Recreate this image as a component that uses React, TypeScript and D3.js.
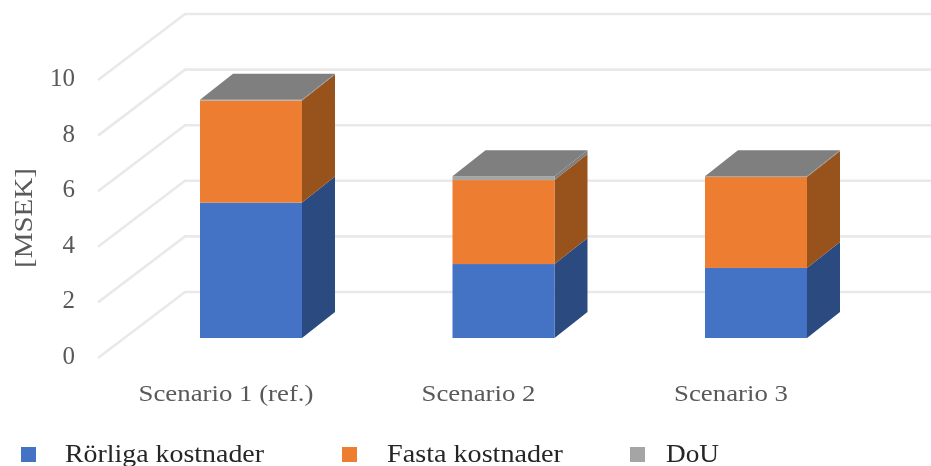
import React from "react";
import * as d3 from "d3";

const categories = ["Scenario 1 (ref.)", "Scenario 2", "Scenario 3"];
const seriesNames = ["Rörliga kostnader", "Fasta kostnader", "DoU"];
const rorliga = [4.87, 2.66, 2.52];
const fasta = [3.67, 3.02, 3.27];
const dou = [0.03, 0.14, 0.03];
const ticks = [0, 2, 4, 6, 8, 10];

const frontColors = ["#4472C4", "#ED7D31", "#A5A5A5"];
const sideColors = ["#2A4A80", "#98521C", "#7F7F7F"];
const topColor = "#7F7F7F";
const font = "'Liberation Serif', serif";

const W = 931, H = 466;
const depthX = 87, depthY = 66;
const barDepthX = 33, barDepthY = 26;
const y = d3.scaleLinear().domain([0, 10]).range([358, 80]);
const barY = d3.scaleLinear().domain([0, 10]).range([338, 60]);
const x = d3.scaleBand().domain(categories).range([200, 807]).paddingInner(0.596).paddingOuter(0);

const rows = categories.map((c, i) => ({ c, a: rorliga[i], b: fasta[i], d: dou[i] }));
const stacked = d3.stack<any>().keys(["a", "b", "d"])(rows);

const poly = (p: [number, number][]) => (d3.line()(p) as string) + "Z";

const categoryWidths = [175, 114, 114];
const legendWidths = [199, 176, 53];

export default function App() {
  const legendX = [21, 342, 630];
  const legendTextX = [65, 387, 666];
  return (
    <svg width={W} height={H} viewBox={`0 0 ${W} ${H}`} style={{ position: "absolute", left: 0, top: 0, background: "#fff", filter: "blur(0.6px)" }}>
      {ticks.map((t) => {
        const yy = y(t);
        return (
          <g key={t}>
            <path d={d3.line()([[98, yy], [98 + depthX, yy - depthY], [W, yy - depthY]]) as string} fill="none" stroke="#E9E9E9" strokeWidth={2.6} />
            <text x={75} y={yy + 6} fontFamily={font} fontSize={25} fill="#595959" textAnchor="end">{t}</text>
          </g>
        );
      })}
      {stacked.map((s, si) =>
        s.map((d, i) => {
          const x0 = x(categories[i]) as number;
          const x1 = x0 + x.bandwidth();
          const y0 = barY(d[0]);
          const y1 = barY(d[1]);
          return (
            <g key={`${si}-${i}`}>
              <path d={poly([[x1, y0], [x1 + barDepthX, y0 - barDepthY], [x1 + barDepthX, y1 - barDepthY], [x1, y1]])} fill={sideColors[si]} />
              <rect x={x0} y={y1} width={x1 - x0} height={y0 - y1} fill={frontColors[si]} />
              {si === 2 && (
                <path d={poly([[x0, y1], [x0 + barDepthX, y1 - barDepthY], [x1 + barDepthX, y1 - barDepthY], [x1, y1]])} fill={topColor} />
              )}
            </g>
          );
        })
      )}
      {categories.map((c, i) => (
        <text key={c} x={(x(c) as number) + x.bandwidth() / 2 - 25} y={401} fontFamily={font} fontSize={23.5} fill="#595959" textAnchor="middle" textLength={categoryWidths[i]} lengthAdjust="spacingAndGlyphs">{c}</text>
      ))}
      <text transform="translate(32,218) rotate(-90)" fontFamily={font} fontSize={26} fill="#595959" textAnchor="middle" textLength={100} lengthAdjust="spacingAndGlyphs">[MSEK]</text>
      {seriesNames.map((n, i) => (
        <g key={n}>
          <rect x={legendX[i]} y={447} width={15} height={15} fill={frontColors[i]} />
          <text x={legendTextX[i]} y={462} fontFamily={font} fontSize={25} fill="#262626" textLength={legendWidths[i]} lengthAdjust="spacingAndGlyphs">{n}</text>
        </g>
      ))}
    </svg>
  );
}
